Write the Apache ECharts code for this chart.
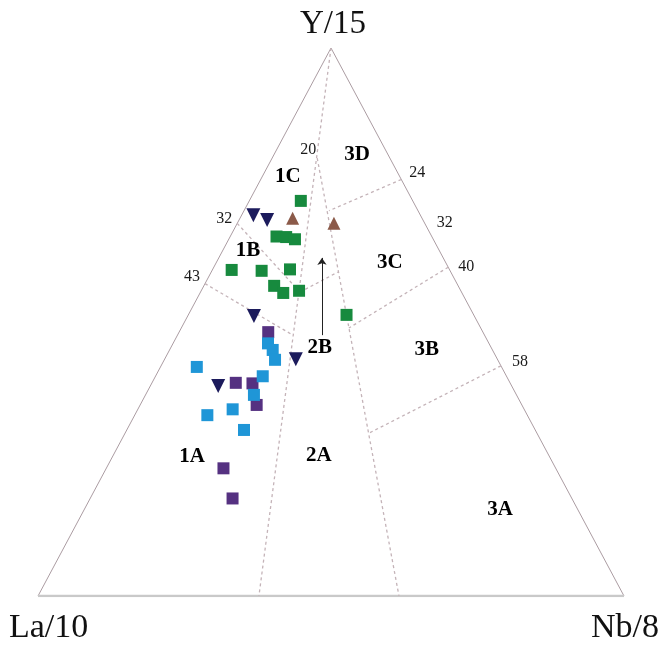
<!DOCTYPE html>
<html><head><meta charset="utf-8">
<script src="https://cdn.jsdelivr.net/npm/echarts@6/dist/echarts.min.js"></script>
<style>html,body{margin:0;padding:0;background:#fff}#c{width:666px;height:646px}</style>
</head><body><div id="c"></div>
<script>
// All compositions are [La/10, Y/15, Nb/8] in percent
const apexTitle = 'Y/15', leftTitle = 'La/10', rightTitle = 'Nb/8';

const greenSquares = [[19.1,72.1,8.8],[26.5,65.6,7.9],[24.9,65.5,9.6],[23.6,65.1,11.3],[37.2,59.5,3.3],[32.2,59.4,8.5],[27.2,59.6,13.2],[31.4,56.6,12.0],[30.5,55.3,14.2],[27.6,55.7,16.7],[21.7,51.3,27.0]];
const navyTriangles = [[28.5,69.5,2.0],[26.6,68.6,4.8],[37.6,51.1,11.3],[34.4,43.2,22.4],[50.1,38.3,11.6]];
const brownTriangles = [[22.1,69.0,9.0],[15.5,68.0,16.5]];
const purpleSquares = [[36.6,48.1,15.2],[46.8,38.9,14.3],[44.0,38.8,17.2],[45.3,34.9,19.9],[56.7,23.3,20.0],[57.9,17.8,24.3]];
const cyanSquares = [[37.7,46.1,16.2],[37.5,44.9,17.6],[38.0,43.1,18.9],[52.0,41.8,6.2],[41.6,40.1,18.3],[44.8,36.7,18.5],[54.6,33.0,12.4],[49.8,34.1,16.2],[49.7,30.3,20.0]];

const sideEdges = [[[100,0,0],[0,100,0]],[[0,100,0],[0,0,100]]];
const baseEdge = [[100,0,0],[0,0,100]];
const fieldBoundaries = [
  [[0,100,0],[62.3,0,37.7]],
  [[12.4,79.9,7.7],[38.4,0,61.6]],
  [[32,68,0],[27.6,55.5,17.0]],
  [[43,57,0],[32.7,47.6,19.7]],
  [[27.6,55.5,17.0],[19.3,59.1,21.6]],
  [[0,76,24],[15.2,70.3,14.5]],
  [[0,60,40],[22.5,48.9,28.6]],
  [[0,42,58],[28.7,29.7,41.6]]
];
const arrowLine = [[27.7,47.6,24.7],[20.7,61.7,17.6]];

const fieldNames = ['1C','3D','1B','3C','2B','3B','1A','2A','3A'];
const fieldPos = [[19.1,76.5,4.4],[5.3,80.5,14.2],[32.6,63.1,4.3],[9.5,60.9,29.6],[29.2,45.4,25.4],[11.2,44.9,43.9],[61.0,25.4,13.6],[39.5,25.7,35.3],[13.3,15.7,71.0]];

const tickTexts = ['32','43','20','24','32','40','58'];
const tickPos = [[32,68,0],[43,57,0],[12.4,79.9,7.7],[0,76,24],[0,68,32],[0,60,40],[0,42,58]];
const tickOffsets = [[-13,-5],[-13,-7],[-9,-8],[16,-7],[20,-1],[18,0],[19,-4]];

function tern(p){ const s=p[0]+p[1]+p[2]; const Y=p[1]/s, Nb=p[2]/s; return [Nb+Y/2, Y]; }

const serif = '"Liberation Serif","DejaVu Serif",serif';
const series = [];
sideEdges.forEach(e=>series.push({type:'line',data:e.map(tern),symbol:'none',silent:true,lineStyle:{color:'#ab9ca2',width:1},z:1}));
series.push({type:'line',data:baseEdge.map(tern),symbol:'none',silent:true,lineStyle:{color:'#c9c9c9',width:2.5},z:1});
fieldBoundaries.forEach(e=>series.push({type:'line',data:e.map(tern),symbol:'none',silent:true,lineStyle:{color:'#c4b3b8',width:1.3,type:[3,3]},z:1}));
series.push({type:'line',data:[],markLine:{silent:true,symbol:['none','arrow'],symbolSize:7,label:{show:false},lineStyle:{color:'#222',width:1,type:'solid'},data:[[{coord:tern(arrowLine[0])},{coord:tern(arrowLine[1])}]]}});
function pts(arr,sym,size,color,rot){ return {type:'scatter',data:arr.map(tern),symbol:sym,symbolSize:size,symbolRotate:rot||0,itemStyle:{color:color,opacity:1},z:5}; }
series.push(pts(greenSquares,'rect',12,'#178a3e'));
series.push(pts(purpleSquares,'rect',12,'#553181'));
series.push(pts(cyanSquares,'rect',12,'#1f96d7'));
series.push(pts(navyTriangles,'triangle',14,'#1c1b5c',180));
series.push(pts(brownTriangles,'triangle',13,'#8b5a49'));
series.push({type:'scatter',data:fieldPos.map((p,i)=>({value:tern(p),name:fieldNames[i]})),symbolSize:1,itemStyle:{opacity:0},z:6,
  label:{show:true,position:'inside',formatter:'{b}',color:'#000',opacity:1,fontFamily:serif,fontWeight:'bold',fontSize:21}});
series.push({type:'scatter',data:tickPos.map((p,i)=>({value:tern(p),name:tickTexts[i],label:{offset:tickOffsets[i]}})),symbolSize:1,itemStyle:{opacity:0},z:6,
  label:{show:true,position:'inside',formatter:'{b}',color:'#1a1a1a',opacity:1,fontFamily:serif,fontSize:16}});

const chart = echarts.init(document.getElementById('c'),null,{renderer:'canvas'});
chart.setOption({
  animation:false,
  backgroundColor:'#fff',
  grid:{left:38,right:42,top:48,bottom:50},
  xAxis:{type:'value',min:0,max:1,show:false},
  yAxis:{type:'value',min:0,max:1,show:false},
  graphic:[
    {type:'text',x:333,y:8,style:{text:apexTitle,align:'center',fontFamily:serif,fontSize:33,fill:'#111'}},
    {type:'text',x:9,y:611,style:{text:leftTitle,fontFamily:serif,fontSize:34,fill:'#111'}},
    {type:'text',x:591,y:611,style:{text:rightTitle,fontFamily:serif,fontSize:34,fill:'#111'}}
  ],
  series:series
});
</script></body></html>
